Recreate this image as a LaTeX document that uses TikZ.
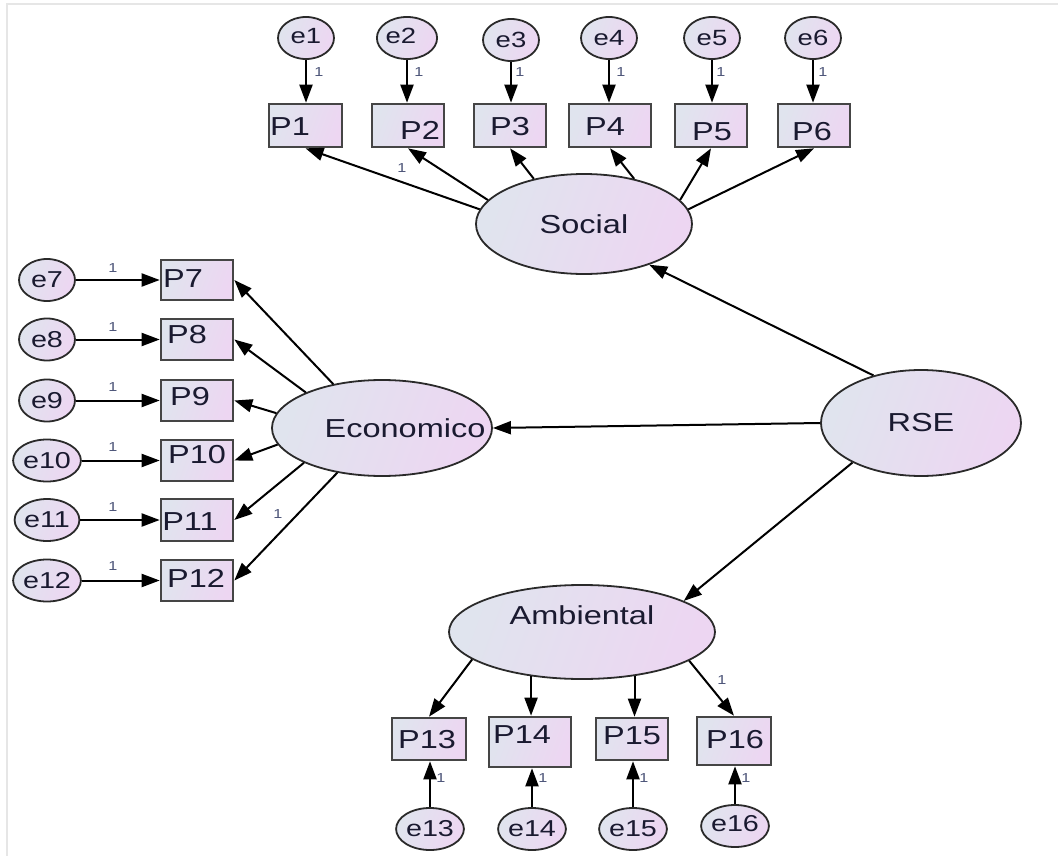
\documentclass[tikz,border=0pt]{standalone}
\usepackage{fontspec}
\setmainfont{Liberation Sans}
\newfontfamily\labfont[FakeStretch=1.25]{Liberation Sans}
\usetikzlibrary{arrows.meta,shapes.geometric,backgrounds}
\definecolor{shA}{HTML}{E0E4EE}
\definecolor{shB}{HTML}{EDD6F2}
\definecolor{edge}{HTML}{2A2A2A}
\definecolor{boxedge}{HTML}{454545}
\definecolor{txt}{HTML}{1A1A30}
\definecolor{onec}{HTML}{4C5478}
\definecolor{frame}{HTML}{E6E6E6}
\tikzset{
  grad/.style={left color=shA, right color=shB, shading angle=70},
  lat/.style={ellipse, draw=edge, line width=1.8pt, grad, inner sep=0pt,
    font=\labfont\fontsize{26}{28}\selectfont, text=txt},
  err/.style={ellipse, draw=edge, line width=1.8pt, grad, inner sep=0pt,
    minimum width=56pt, minimum height=42pt, font=\labfont\fontsize{23}{24}\selectfont, text=txt},
  errtop/.style={err, font=\labfont\fontsize{22}{24}\selectfont},
  obs/.style={rectangle, draw=boxedge, line width=2.6pt, grad, inner sep=0pt,
    minimum width=72pt, minimum height=42pt},
  lbl/.style={inner sep=0pt, font=\labfont\fontsize{26}{28}\selectfont, text=txt},
  one/.style={inner sep=0pt, font=\labfont\fontsize{13}{13}\selectfont, text=onec},
  arr/.style={-{Triangle[length=18pt,width=13pt]}, line width=2pt, draw=black},
}
\begin{document}
\begin{tikzpicture}[x=1pt,y=-1pt]
\useasboundingbox (0,0) rectangle (1058,856);
\draw[frame, line width=2.5pt] (7,856) -- (7,4) -- (1058,4);

% latent variables
\node[lat, minimum width=216pt, minimum height=100pt] (Social) at (584,224) {Social};
\node[lat, minimum width=200pt, minimum height=106pt] (RSE) at (921,423) {\raisebox{-5pt}{RSE}};
\node[lat, minimum width=220pt, minimum height=96pt] (Econ) at (382,428) {};
\node[lbl] (Econt) at (405,428) {Economico};
\node[lat, minimum width=266pt, minimum height=94pt] (Amb) at (582,632) {};
\node[lbl] (Ambt) at (582,615) {Ambiental};

% top observed + errors
\node[obs, minimum width=73pt, minimum height=43pt] (P1) at (305.5,125.5) {};
\node[obs, minimum height=43pt] (P2) at (408,125.5) {};
\node[obs, minimum height=43pt] (P3) at (510,125.5) {};
\node[obs, minimum width=82pt, minimum height=43pt] (P4) at (610,125.5) {};
\node[obs, minimum height=43pt] (P5) at (711,125.5) {};
\node[obs, minimum height=43pt] (P6) at (814,125.5) {};
\node[lbl] (P1t) at (290,127) {P1};
\node[lbl] (P2t) at (420,130) {P2};
\node[lbl] (P3t) at (510,127) {P3};
\node[lbl] (P4t) at (605,127) {P4};
\node[lbl] (P5t) at (712,132) {P5};
\node[lbl] (P6t) at (812,132) {P6};
\node[errtop] (e1) at (306,38) {\raisebox{4pt}{e1}};
\node[errtop] (e2) at (407,38) {\raisebox{5pt}{e2\hspace{12pt}}};
\node[errtop] (e3) at (511,40) {e3};
\node[errtop] (e4) at (609,38) {e4};
\node[errtop] (e5) at (712,38) {e5};
\node[errtop] (e6) at (813,38) {e6};

% left observed + errors
\node[obs, minimum height=40pt] (P7) at (197,280) {};
\node[obs, minimum height=41pt] (P8) at (197,339.5) {};
\node[obs, minimum height=41pt] (P9) at (197,400.5) {};
\node[obs, minimum height=41pt] (P10) at (197,460.5) {};
\node[obs, minimum height=42pt] (P11) at (197,520) {};
\node[obs, minimum height=41pt] (P12) at (197,580.5) {};
\node[lbl] (P7t) at (183,279) {P7};
\node[lbl] (P8t) at (187,335) {P8};
\node[lbl] (P9t) at (190,397) {P9};
\node[lbl] (P10t) at (197,455) {P10};
\node[lbl] (P11t) at (190,522) {P11};
\node[lbl] (P12t) at (196,578) {P12};
\node[err] (e7) at (47,280) {e7};
\node[err] (e8) at (47,339.5) {e8};
\node[err] (e9) at (47,400.5) {e9};
\node[err] (e10) at (47,460.5) {e10};
\node[err] (e11) at (47,520) {e11};
\node[err] (e12) at (47,580.5) {e12};

% bottom observed + errors
\node[obs, minimum width=74pt, minimum height=42pt] (P13) at (429,739) {};
\node[obs, minimum width=82pt, minimum height=50pt] (P14) at (530,742) {};
\node[obs, minimum width=72pt, minimum height=42pt] (P15) at (632,739) {};
\node[obs, minimum width=74pt, minimum height=48pt] (P16) at (734,741) {};
\node[lbl] (P13t) at (427,740) {P13};
\node[lbl] (P14t) at (522,735) {P14};
\node[lbl] (P15t) at (632,736) {P15};
\node[lbl] (P16t) at (735,740) {P16};
\node[err] (e13) at (430,829) {e13};
\node[err] (e14) at (532,829) {e14};
\node[err] (e15) at (633,829) {e15};
\node[err] (e16) at (735,826) {\raisebox{5pt}{e16}};

% structural paths
\draw[arr] (RSE.135) -- (Social.-32);
\draw[arr] (RSE.180) -- (Econ.east);
\draw[arr] (RSE.210) -- (Amb.17);

% Social loadings
\draw[arr] (Social.172) -- (P1.south);
\draw[arr] (Social.166) -- (P2.south);
\draw[arr] (Social.138) -- (P3.south);
\draw[arr] (Social.42) -- (P4.south);
\draw[arr] (Social.14) -- (P5.south);
\draw[arr] (Social.8) -- (P6.south);

% Economico loadings
\draw[arr] (Econ.138) -- (P7.east);
\draw[arr] (Econ.155) -- (P8.east);
\draw[arr] (Econ.172) -- (P9.east);
\draw[arr] (Econ.189) -- (P10.east);
\draw[arr] (Econ.204) -- (P11.east);
\draw[arr] (Econ.225) -- (P12.east);

% Ambiental loadings
\draw[arr] (Amb.194) -- (P13.north);
\draw[arr] (Amb.221) -- (Amb.221 |- P14.north);
\draw[arr] (Amb.-40) -- (Amb.-40 |- P15.north);
\draw[arr] (Amb.-15) -- (P16.north);

% error paths
\foreach \e/\p in {e1/P1,e2/P2,e3/P3,e4/P4,e5/P5,e6/P6}
  \draw[arr] (\e.south) -- (\e.south |- \p.north);
\foreach \e/\p in {e7/P7,e8/P8,e9/P9,e10/P10,e11/P11,e12/P12}
  \draw[arr] (\e.east) -- (\e.east -| \p.west);
\foreach \e/\p in {e13/P13,e14/P14,e15/P15,e16/P16}
  \draw[arr] (\e.north) -- (\e.north |- \p.south);

% fixed-parameter labels
\foreach \x/\n in {319/a,419/b,520/c,621/d,721/e,823/f}
  \node[one] (o\n) at (\x,72) {1};
\foreach \y/\n in {268/a,327/b,387/c,447/d,507/e,566/f}
  \node[one] (l\n) at (113,\y) {1};
\foreach \x/\n in {441/a,543/b,644/c,746/d}
  \node[one] (b\n) at (\x,778) {1};
\node[one] (s1) at (402,168) {1};
\node[one] (c1) at (278,514) {1};
\node[one] (a1) at (722,680) {1};
\end{tikzpicture}
\end{document}
